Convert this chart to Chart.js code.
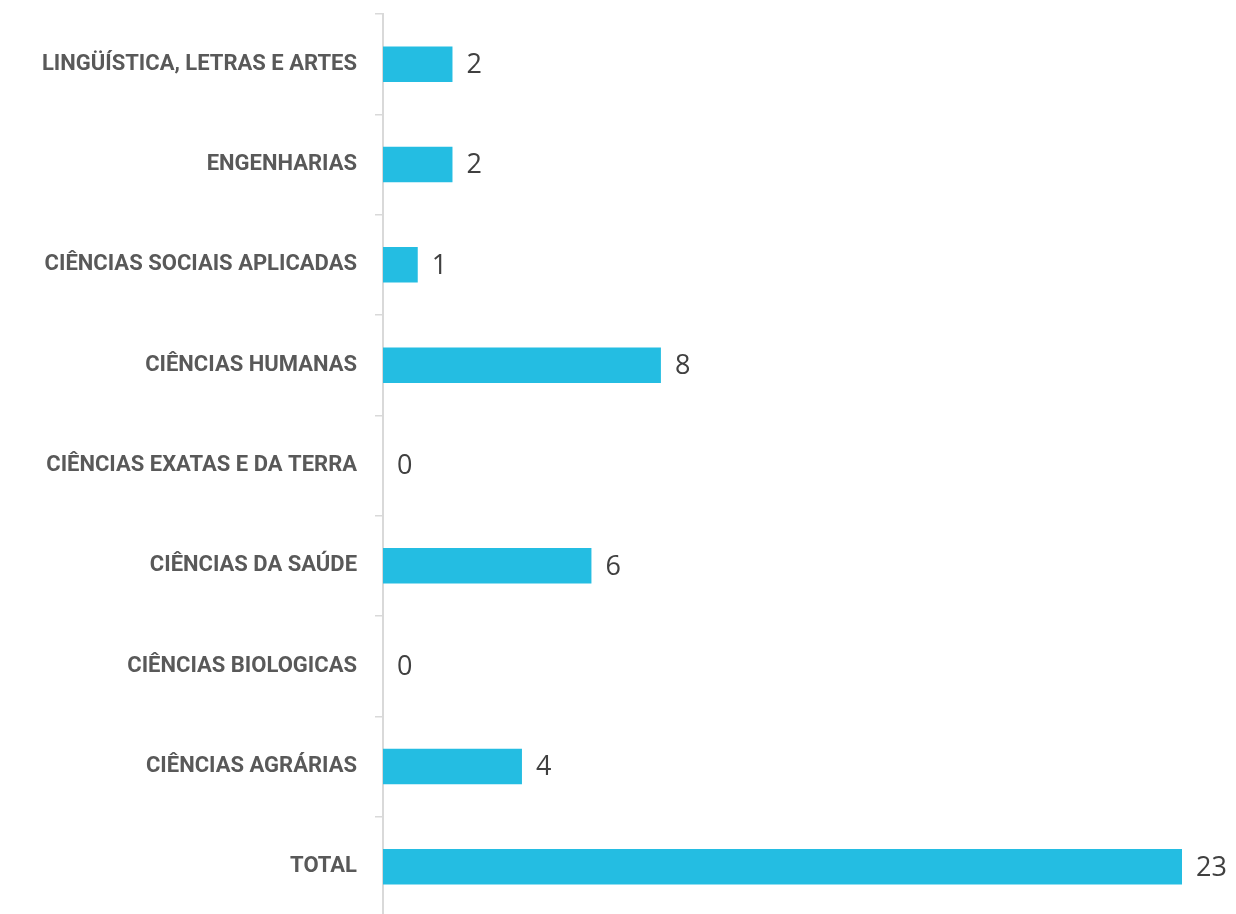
<!DOCTYPE html>
<html lang="pt">
<head>
<meta charset="UTF-8">
<title>Áreas do conhecimento</title>
<script src="https://cdn.jsdelivr.net/npm/chart.js@4/dist/chart.umd.min.js"></script>
<style>
    html, body {
        margin: 0;
        padding: 0;
        background: #fff;
        overflow: hidden;
    }
    #wrap {
        width: 1236px;
        height: 921px;
    }
</style>
</head>
<body>
<div id="wrap"><canvas id="chart"></canvas></div>
<script>
    const areas = [
        'LINGÜÍSTICA, LETRAS E ARTES',
        'ENGENHARIAS',
        'CIÊNCIAS SOCIAIS APLICADAS',
        'CIÊNCIAS HUMANAS',
        'CIÊNCIAS EXATAS E DA TERRA',
        'CIÊNCIAS DA SAÚDE',
        'CIÊNCIAS BIOLOGICAS',
        'CIÊNCIAS AGRÁRIAS',
        'TOTAL'
    ];
    const quantidades = [2, 2, 1, 8, 0, 6, 0, 4, 23];

    // rótulos de valor ao lado das barras
    const valueLabels = {
        id: 'valueLabels',
        afterDatasetsDraw(chart) {
            const ctx = chart.ctx;
            const meta = chart.getDatasetMeta(0);
            ctx.save();
            ctx.font = '27px "Open Sans", sans-serif';
            ctx.fillStyle = '#404040';
            ctx.textAlign = 'left';
            ctx.textBaseline = 'middle';
            meta.data.forEach((bar, i) => {
                ctx.fillText(String(quantidades[i]), bar.x + 14, bar.y + 1);
            });
            ctx.restore();
        }
    };

    new Chart(document.getElementById('chart'), {
        type: 'bar',
        data: {
            labels: areas,
            datasets: [{
                data: quantidades,
                backgroundColor: '#24bde2',
                borderWidth: 0,
                categoryPercentage: 1,
                barPercentage: 0.353
            }]
        },
        options: {
            indexAxis: 'y',
            responsive: true,
            maintainAspectRatio: false,
            animation: false,
            layout: {
                padding: { top: 14, bottom: 4, left: 0, right: 54 }
            },
            plugins: {
                legend: { display: false },
                tooltip: { enabled: false }
            },
            scales: {
                x: {
                    display: false,
                    min: 0,
                    max: 23
                },
                y: {
                    afterFit(scale) {
                        scale.width = 383;
                        scale.paddingTop = 0;
                        scale.paddingBottom = 0;
                    },
                    border: { color: '#d9d9d9', width: 2 },
                    grid: {
                        offset: true,
                        drawOnChartArea: false,
                        tickLength: 8,
                        color: '#d9d9d9',
                        lineWidth: 1.5
                    },
                    ticks: {
                        padding: 18,
                        color: '#595959',
                        font: {
                            family: '"Liberation Sans Narrow", "Arial Narrow", "Roboto", sans-serif',
                            size: 22,
                            weight: 'bold'
                        }
                    }
                }
            }
        },
        plugins: [valueLabels]
    });
</script>
</body>
</html>
